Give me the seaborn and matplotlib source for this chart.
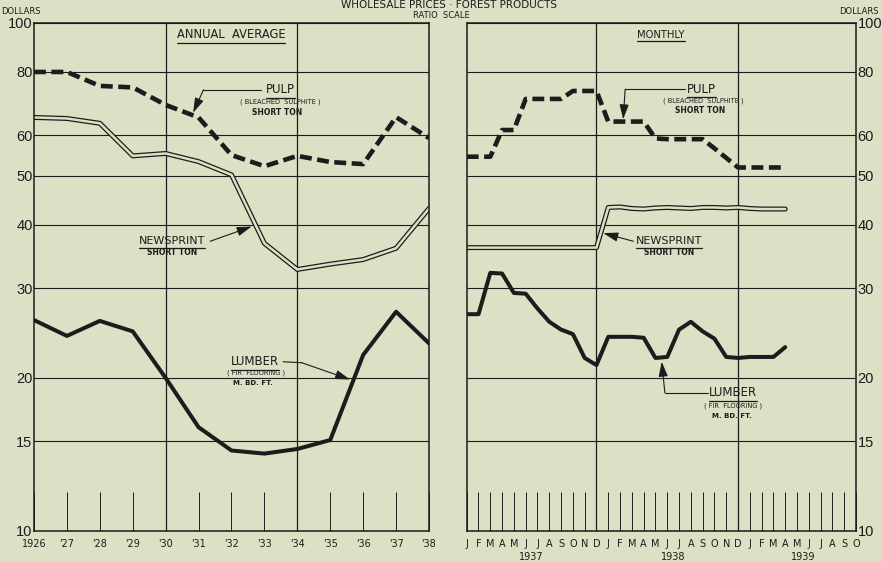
import matplotlib
matplotlib.use("Agg")
import matplotlib.pyplot as plt
import matplotlib.ticker as mticker
import matplotlib.transforms as mtransforms
import pandas as pd
import seaborn as sns

# Wholesale prices - forest products (dollars, ratio scale)
# Values

# annual averages 1926-1938
years = [1926, 1927, 1928, 1929, 1930, 1931, 1932, 1933, 1934, 1935, 1936, 1937, 1938]
year_labels = ["1926", "'27", "'28", "'29", "'30", "'31", "'32", "'33", "'34", "'35", "'36", "'37", "'38"]
pulp_annual = [80.0, 80.0, 75.1, 74.6, 68.9, 65.1, 54.9, 52.2, 54.7, 53.2, 52.7, 65.2, 59.3]
newsprint_annual = [65.1, 64.8, 63.4, 54.7, 55.3, 53.3, 50.2, 36.8, 32.7, 33.5, 34.2, 36.0, 43.1]
lumber_annual = [26.0, 24.2, 25.9, 24.7, 20.0, 16.0, 14.4, 14.2, 14.5, 15.1, 22.2, 27.0, 23.4]

# monthly, Jan 1937 - Apr 1939 (the axis runs on to Oct 1939)
month_letters = list("JFMAMJJASOND") + list("JFMAMJJASOND") + list("JFMAMJJASO")
month_years = ["1937", "1938", "1939"]
pulp_monthly = [54.5, 54.5, 54.5, 61.5, 61.5, 70.8, 70.8, 70.8, 70.8, 73.4, 73.4, 73.4,
                63.9, 63.9, 63.9, 63.9, 59.2, 59.0, 59.0, 59.0, 59.0, 56.6, 54.2, 51.9,
                51.9, 51.9, 51.9, 51.9]
newsprint_monthly = [36.1, 36.1, 36.1, 36.1, 36.1, 36.1, 36.1, 36.1, 36.1, 36.1, 36.1, 36.1,
                     43.3, 43.4, 43.1, 43.0, 43.2, 43.3, 43.2, 43.1, 43.3, 43.3, 43.2, 43.3,
                     43.1, 43.0, 43.0, 43.0]
lumber_monthly = [26.7, 26.7, 32.2, 32.1, 29.4, 29.3, 27.4, 25.8, 24.9, 24.4, 21.9, 21.2,
                  24.1, 24.1, 24.1, 24.0, 21.9, 22.0, 24.9, 25.8, 24.7, 23.9, 22.0, 21.9,
                  22.0, 22.0, 22.0, 23.0]

y_ticks = [10, 15, 20, 30, 40, 50, 60, 80, 100]
annual_grid = [1930, 1934]
monthly_grid = [11, 23]   # the two Decembers

annual = pd.DataFrame({"year": years, "pulp": pulp_annual,
                       "newsprint": newsprint_annual, "lumber": lumber_annual})
monthly = pd.DataFrame({"month": range(len(pulp_monthly)), "pulp": pulp_monthly,
                        "newsprint": newsprint_monthly, "lumber": lumber_monthly})

bg = "#dde0c5"
ink = "#1c1c1c"

sns.set_style("white", rc={"axes.facecolor": bg, "figure.facecolor": bg,
                           "axes.edgecolor": ink, "text.color": ink,
                           "xtick.color": ink, "ytick.color": ink,
                           "xtick.bottom": True})
plt.rcParams["font.family"] = ["DejaVu Sans"]

fig = plt.figure(figsize=(8.82, 5.62), dpi=100, facecolor=bg)
ax1 = fig.add_axes([34 / 882, 31 / 562, 395 / 882, 508.3 / 562])
ax2 = fig.add_axes([466.7 / 882, 31 / 562, 389.3 / 882, 508.3 / 562])
renderer = fig.canvas.get_renderer()


def draw_series(ax, df, x):
    # pulp dashed, newsprint double line, lumber solid
    sns.lineplot(data=df, x=x, y="pulp", ax=ax, color=ink, linewidth=3.3,
                 linestyle=(0, (2.6, 1.2)), dash_capstyle="butt")
    sns.lineplot(data=df, x=x, y="newsprint", ax=ax, color=ink, linewidth=3.6)
    sns.lineplot(data=df, x=x, y="newsprint", ax=ax, color=bg, linewidth=1.8)
    sns.lineplot(data=df, x=x, y="lumber", ax=ax, color=ink, linewidth=2.9)


def txt(ax, x, y, s, size, weight="normal", underline=False):
    t = ax.text(x, y, s, transform=ax.transAxes, ha="center", va="center",
                fontsize=size, fontweight=weight, color=ink)
    if underline:
        bb = t.get_window_extent(renderer).transformed(ax.transAxes.inverted())
        yl = bb.y0 - 0.003
        ax.plot([bb.x0, bb.x1], [yl, yl], transform=ax.transAxes, color=ink, lw=0.9)


def leader(ax, pts, head):
    xs = [p[0] for p in pts]
    ys = [p[1] for p in pts]
    ax.plot(xs, ys, transform=ax.transAxes, color=ink, lw=0.8)
    ax.annotate("", xy=head, xycoords="axes fraction", xytext=pts[-1],
                textcoords="axes fraction",
                arrowprops=dict(arrowstyle="-|>,head_length=0.9,head_width=0.28",
                                color=ink, lw=0.8, shrinkA=0, shrinkB=0))


draw_series(ax1, annual, "year")
draw_series(ax2, monthly, "month")

for ax in (ax1, ax2):
    ax.set_yscale("log")
    ax.set_ylim(10, 100)
    ax.yaxis.set_major_locator(mticker.FixedLocator(y_ticks))
    ax.yaxis.set_minor_locator(mticker.NullLocator())
    ax.set_yticks(y_ticks, labels=[str(v) for v in y_ticks],
                  fontfamily="Liberation Sans", fontsize=10.5)
    ax.grid(axis="y", color=ink, lw=0.8)
    ax.set_axisbelow(True)
    ax.set_xlabel("")
    ax.set_ylabel("")
    for s in ax.spines.values():
        s.set_visible(True)
        s.set_color(ink)
        s.set_linewidth(1.1)
    ax.tick_params(axis="y", length=0, pad=1)
    ax.tick_params(axis="x", bottom=True, direction="in", length=28, width=0.7,
                   color=ink, pad=6, labelsize=7)

# annual panel
ax1.set_xlim(years[0], years[-1])
ax1.set_xticks(years, labels=year_labels)
for g in annual_grid:
    ax1.axvline(g, color=ink, lw=0.9, zorder=0.5)

# monthly panel
ax2.set_xlim(0, len(month_letters) - 1)
ax2.set_xticks(range(len(month_letters)), labels=month_letters)
ax2.yaxis.tick_right()
ax2.tick_params(axis="y", length=0, pad=1)
for g in monthly_grid:
    ax2.axvline(g, color=ink, lw=0.9, zorder=0.5)
trans = mtransforms.blended_transform_factory(ax2.transData, ax2.transAxes)
for k, yr in enumerate(month_years):
    first = 12 * k
    last = min(12 * k + 11, len(month_letters) - 1)
    ax2.text((first + last) / 2, -0.051, yr, transform=trans, ha="center",
             va="center", fontsize=7, color=ink)

# labels - annual panel
txt(ax1, 0.499, 0.976, "ANNUAL  AVERAGE", 8.3, underline=True)
txt(ax1, 0.623, 0.868, "PULP", 8.5, underline=True)
txt(ax1, 0.623, 0.845, "( BLEACHED  SULPHITE )", 4.8)
txt(ax1, 0.615, 0.824, "SHORT TON", 5.5, "bold")
leader(ax1, [(0.575, 0.868), (0.429, 0.868)], (0.403, 0.823))
txt(ax1, 0.349, 0.570, "NEWSPRINT", 8, underline=True)
txt(ax1, 0.349, 0.547, "SHORT TON", 5.5, "bold")
leader(ax1, [(0.446, 0.570)], (0.551, 0.599))
txt(ax1, 0.559, 0.333, "LUMBER", 8.5, underline=True)
txt(ax1, 0.561, 0.311, "( FIR  FLOORING )", 4.8)
txt(ax1, 0.555, 0.291, "M. BD. FT.", 5, "bold")
leader(ax1, [(0.631, 0.333), (0.678, 0.331)], (0.800, 0.298))

# labels - monthly panel
txt(ax2, 0.499, 0.976, "MONTHLY", 7.2, underline=True)
txt(ax2, 0.604, 0.869, "PULP", 8.5, underline=True)
txt(ax2, 0.607, 0.847, "( BLEACHED  SULPHITE )", 4.8)
txt(ax2, 0.599, 0.827, "SHORT TON", 5.5, "bold")
leader(ax2, [(0.561, 0.869), (0.407, 0.869)], (0.402, 0.810))
txt(ax2, 0.520, 0.570, "NEWSPRINT", 8, underline=True)
txt(ax2, 0.520, 0.547, "SHORT TON", 5.5, "bold")
leader(ax2, [(0.428, 0.570)], (0.351, 0.586))
txt(ax2, 0.684, 0.272, "LUMBER", 8.5, underline=True)
txt(ax2, 0.684, 0.246, "( FIR  FLOORING )", 4.8)
txt(ax2, 0.682, 0.226, "M. BD. FT.", 5, "bold")
leader(ax2, [(0.620, 0.272), (0.509, 0.272)], (0.501, 0.333))

# header
fig.text(449 / 882, 1 - 0.5 / 562, "WHOLESALE PRICES · FOREST PRODUCTS", ha="center",
         va="top", fontsize=7.5, color=ink)
fig.text(441 / 882, 1 - 15.5 / 562, "RATIO  SCALE", ha="center", va="center", fontsize=6)
fig.text(21 / 882, 1 - 12 / 562, "DOLLARS", ha="center", va="center", fontsize=6)
fig.text(859 / 882, 1 - 12 / 562, "DOLLARS", ha="center", va="center", fontsize=6)

fig.savefig("out.png", dpi=100, facecolor=bg)
